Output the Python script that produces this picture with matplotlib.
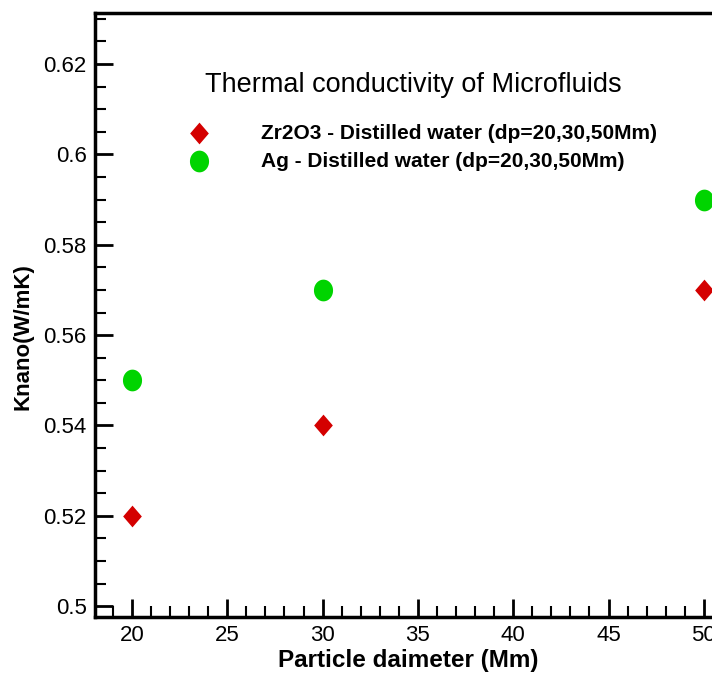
import numpy as np
import matplotlib.pyplot as plt
from matplotlib.ticker import MultipleLocator

# data
diameter = [20, 30, 50]
k_zr2o3 = [0.52, 0.54, 0.57]
k_ag = [0.55, 0.57, 0.59]

label_zr = "Zr2O3 - Distilled water (dp=20,30,50Mm)"
label_ag = "Ag - Distilled water (dp=20,30,50Mm)"
legend_title = "Thermal conductivity of Microfluids"

plt.rcParams['font.family'] = ['Liberation Sans', 'DejaVu Sans']

# marker shapes: slightly tall diamond and slightly tall round dot
diamond = [(0, 1), (0.86, 0), (0, -1), (-0.86, 0), (0, 1)]
t = np.linspace(0, 2 * np.pi, 40)
dot = list(zip(0.88 * np.cos(t), np.sin(t)))

fig = plt.figure(figsize=(7.12, 6.77), dpi=100)
ax = fig.add_axes([95 / 712, 60 / 677, 626 / 712, 604 / 677])

ax.scatter(diameter, k_zr2o3, marker=diamond, s=245, color='#d40000',
           linewidths=0, label=label_zr, zorder=3)
ax.scatter(diameter, k_ag, marker=dot, s=245, color='#00d400',
           linewidths=0, label=label_ag, zorder=3)

ax.set_xlim(18.06, 50.9)
ax.set_ylim(0.4976, 0.6313)
ax.xaxis.set_major_locator(MultipleLocator(5))
ax.xaxis.set_minor_locator(MultipleLocator(1))
ax.yaxis.set_minor_locator(MultipleLocator(0.005))
ax.set_yticks([0.5, 0.52, 0.54, 0.56, 0.58, 0.6, 0.62])
ax.set_yticklabels(['0.5', '0.52', '0.54', '0.56', '0.58', '0.6', '0.62'])

ax.tick_params(which='both', direction='in', top=False, right=False,
               labelsize=16, width=2)
ax.tick_params(which='major', length=13, pad=6)
ax.tick_params(which='minor', length=8, width=1.5)
for s in ax.spines.values():
    s.set_linewidth(2.5)

ax.set_xlabel("Particle daimeter (Mm)", fontsize=17.5, fontweight='bold', labelpad=2)
ax.set_ylabel("Knano(W/mK)", fontsize=16, fontweight='bold')
ax.yaxis.set_label_coords(-0.098, 0.464)

# legend title as its own text, entries below it
ax.text(0.176, 0.881, legend_title, transform=ax.transAxes,
        fontsize=19.5, va='center', ha='left')
ax.legend(loc='upper left', bbox_to_anchor=(0.146, 0.817), frameon=False,
          prop={'size': 15, 'weight': 'bold'}, handlelength=1.2,
          handletextpad=2.36, labelspacing=0.45, borderaxespad=0,
          borderpad=0)

fig.savefig("out.png", dpi=100)
